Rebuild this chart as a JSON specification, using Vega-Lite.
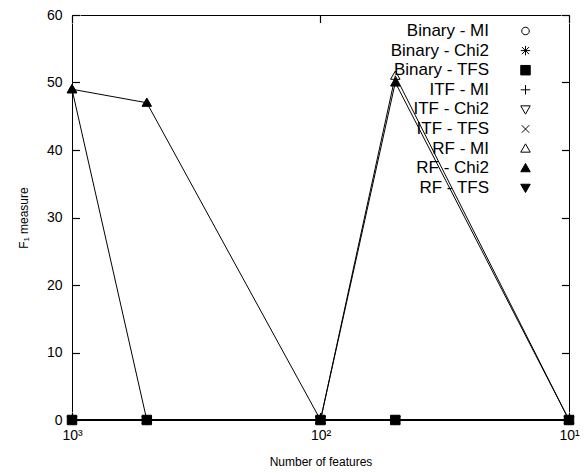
{
  "$schema": "https://vega.github.io/schema/vega-lite/v6.json",
  "width": 497,
  "height": 405,
  "autosize": "none",
  "padding": {"left": 72, "top": 15, "right": 16, "bottom": 53},
  "background": "white",
  "config": {
    "font": "Liberation Sans",
    "view": {"stroke": "black", "strokeWidth": 1},
    "axis": {"grid": false, "ticks": true, "tickColor": "#000000", "tickWidth": 1.2, "tickOpacity": 1, "zindex": 1, "labelColor": "black", "titleColor": "black", "titleFontWeight": "normal"}
  },
  "data": {
    "values": [
      {"series": "Binary - MI", "n": 1000, "f": 0}, {"series": "Binary - MI", "n": 500, "f": 0}, {"series": "Binary - MI", "n": 100, "f": 0}, {"series": "Binary - MI", "n": 50, "f": 0}, {"series": "Binary - MI", "n": 10, "f": 0},
      {"series": "Binary - Chi2", "n": 1000, "f": 0}, {"series": "Binary - Chi2", "n": 500, "f": 0}, {"series": "Binary - Chi2", "n": 100, "f": 0}, {"series": "Binary - Chi2", "n": 50, "f": 0}, {"series": "Binary - Chi2", "n": 10, "f": 0},
      {"series": "ITF - MI", "n": 1000, "f": 0}, {"series": "ITF - MI", "n": 500, "f": 0}, {"series": "ITF - MI", "n": 100, "f": 0}, {"series": "ITF - MI", "n": 50, "f": 0}, {"series": "ITF - MI", "n": 10, "f": 0},
      {"series": "ITF - Chi2", "n": 1000, "f": 0}, {"series": "ITF - Chi2", "n": 500, "f": 0}, {"series": "ITF - Chi2", "n": 100, "f": 0}, {"series": "ITF - Chi2", "n": 50, "f": 0}, {"series": "ITF - Chi2", "n": 10, "f": 0},
      {"series": "ITF - TFS", "n": 1000, "f": 0}, {"series": "ITF - TFS", "n": 500, "f": 0}, {"series": "ITF - TFS", "n": 100, "f": 0}, {"series": "ITF - TFS", "n": 50, "f": 0}, {"series": "ITF - TFS", "n": 10, "f": 0},
      {"series": "RF - TFS", "n": 1000, "f": 0}, {"series": "RF - TFS", "n": 500, "f": 0}, {"series": "RF - TFS", "n": 100, "f": 0}, {"series": "RF - TFS", "n": 50, "f": 0}, {"series": "RF - TFS", "n": 10, "f": 0},
      {"series": "Binary - TFS", "n": 1000, "f": 0}, {"series": "Binary - TFS", "n": 500, "f": 0}, {"series": "Binary - TFS", "n": 100, "f": 0}, {"series": "Binary - TFS", "n": 50, "f": 0}, {"series": "Binary - TFS", "n": 10, "f": 0},
      {"series": "RF - MI", "n": 1000, "f": 49}, {"series": "RF - MI", "n": 500, "f": 0}, {"series": "RF - MI", "n": 100, "f": 0}, {"series": "RF - MI", "n": 50, "f": 51}, {"series": "RF - MI", "n": 10, "f": 0},
      {"series": "RF - Chi2", "n": 1000, "f": 49}, {"series": "RF - Chi2", "n": 500, "f": 47}, {"series": "RF - Chi2", "n": 100, "f": 0}, {"series": "RF - Chi2", "n": 50, "f": 50}, {"series": "RF - Chi2", "n": 10, "f": 0}
    ]
  },
  "layer": [
    {
      "mark": {"type": "line", "stroke": "black", "strokeWidth": 1, "clip": false},
      "encoding": {
        "x": {"field": "n", "type": "quantitative", "title": "Number of features",
          "scale": {"type": "log", "domain": [10, 1000], "reverse": true, "nice": false},
          "axis": {"orient": "bottom", "values": [1000, 100, 10], "labelExpr": "datum.value == 1000 ? '10³' : datum.value == 100 ? '10²' : '10¹'", "labelFontSize": 14, "offset": -8, "tickSize": 8, "domainColor": "white", "labelPadding": 8, "titleFontSize": 12, "titlePadding": 14, "labelFlush": false}},
        "y": {"field": "f", "type": "quantitative", "title": "F₁ measure",
          "scale": {"domain": [0, 60], "nice": false},
          "axis": {"orient": "left", "values": [0, 10, 20, 30, 40, 50, 60], "labelFontSize": 14, "offset": -8, "tickSize": 8, "domainColor": "white", "labelPadding": 10, "titleFontSize": 12, "titlePadding": 16}},
        "detail": {"field": "series"}
      }
    },
    {
      "mark": {"type": "point", "size": 90, "strokeWidth": 1, "opacity": 1, "filled": false, "clip": false},
      "encoding": {
        "x": {"field": "n", "type": "quantitative",
          "scale": {"type": "log", "domain": [10, 1000], "reverse": true, "nice": false},
          "axis": {"orient": "top", "values": [1000, 100, 10], "labels": false, "offset": -8, "tickSize": 8, "domainColor": "white", "title": null}},
        "y": {"field": "f", "type": "quantitative",
          "scale": {"domain": [0, 60], "nice": false},
          "axis": {"orient": "right", "values": [0, 10, 20, 30, 40, 50, 60], "labels": false, "offset": -8, "tickSize": 8, "domainColor": "white", "title": null}},
        "shape": {"field": "series", "type": "nominal",
          "scale": {
            "domain": ["Binary - MI", "Binary - Chi2", "Binary - TFS", "ITF - MI", "ITF - Chi2", "ITF - TFS", "RF - MI", "RF - Chi2", "RF - TFS"],
            "range": [
              "M0.8,0A0.8,0.8,0,1,1,-0.8,0A0.8,0.8,0,1,1,0.8,0Z",
              "M-1,0H1M0,-1V1M-0.75,-0.75L0.75,0.75M-0.75,0.75L0.75,-0.75",
              "M-1,-1H1V1H-1Z",
              "M-1,0H1M0,-1V1",
              "M0,1L1,-0.75H-1Z",
              "M-0.8,-0.8L0.8,0.8M-0.8,0.8L0.8,-0.8",
              "M0,-1L1,0.75H-1Z",
              "M0,-1L1,0.75H-1Z",
              "M0,1L1,-0.75H-1Z"
            ]
          },
          "legend": {"title": null, "orient": "none", "legendX": 445, "legendY": 7.5, "labelFontSize": 17, "labelAlign": "right", "labelOffset": -45, "symbolSize": 90, "rowPadding": 1.6, "labelColor": "black", "symbolStrokeWidth": 1}
        },
        "fill": {"field": "series", "type": "nominal",
          "scale": {
            "domain": ["Binary - MI", "Binary - Chi2", "Binary - TFS", "ITF - MI", "ITF - Chi2", "ITF - TFS", "RF - MI", "RF - Chi2", "RF - TFS"],
            "range": ["transparent", "transparent", "black", "transparent", "transparent", "transparent", "transparent", "black", "black"]
          },
          "legend": {"title": null, "orient": "none", "legendX": 445, "legendY": 7.5, "labelFontSize": 17, "labelAlign": "right", "labelOffset": -45, "symbolSize": 90, "rowPadding": 1.6, "labelColor": "black", "symbolStrokeWidth": 1}
        },
        "stroke": {"field": "series", "type": "nominal",
          "scale": {
            "domain": ["Binary - MI", "Binary - Chi2", "Binary - TFS", "ITF - MI", "ITF - Chi2", "ITF - TFS", "RF - MI", "RF - Chi2", "RF - TFS"],
            "range": ["black", "black", "black", "black", "black", "black", "black", "black", "black"]
          },
          "legend": {"title": null, "orient": "none", "legendX": 445, "legendY": 7.5, "labelFontSize": 17, "labelAlign": "right", "labelOffset": -45, "symbolSize": 90, "rowPadding": 1.6, "labelColor": "black", "symbolStrokeWidth": 1}
        }
      }
    }
  ],
  "resolve": {"axis": {"x": "independent", "y": "independent"}}
}
